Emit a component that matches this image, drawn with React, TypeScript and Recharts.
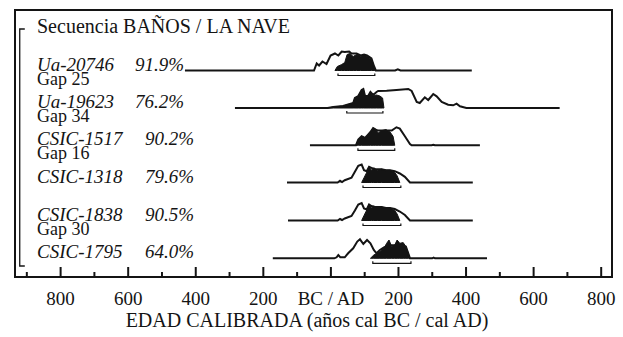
import React from 'react';
import { ComposedChart, Line, Area, XAxis, YAxis, ReferenceArea } from 'recharts';

const sampleNames = ['Ua-20746', 'Ua-19623', 'CSIC-1517', 'CSIC-1318', 'CSIC-1838', 'CSIC-1795'];
const agreements = ['91.9%', '76.2%', '90.2%', '79.6%', '90.5%', '64.0%'];
const gapLabels = ['Gap 25', 'Gap 34', 'Gap 16', '', 'Gap 30', ''];
// 95.4% ranges (cal AD)
const ranges95 = [[21, 130], [47, 154], [80, 189], [95, 207], [95, 207], [124, 237]];

// [year, height] pairs, unmodelled (outline) and modelled (filled)
const prior1 = [[-432, 0], [-50, 0], [-42, 7], [-35, 5], [-25, 9], [-13, 6.5], [-1, 15], [12, 17], [22, 15], [32, 19], [41, 18.5], [54, 19], [61, 17], [76, 17], [88, 15], [98, 16], [107, 15], [120, 12], [128, 4], [133, 0], [190, 0], [198, 1.2], [206, 0], [417, 0]];
const post1 = [[12, 0], [19, 4], [32, 6], [41, 8], [48, 16], [56, 17], [66, 14], [76, 16], [88, 14], [98, 16], [107, 14], [120, 11], [128, 4], [133, 0]];

const prior2 = [[-284, 0], [-10, 0], [7, 1], [36, 2], [66, 5], [71, 10], [81, 12], [91, 18], [96, 19], [101, 12], [110, 12], [117, 16], [125, 13], [135, 16], [140, 17], [165, 17.3], [194, 18], [229, 19], [239, 17], [254, 6], [263, 5], [278, 10.7], [288, 8], [303, 14], [313, 11.7], [328, 6], [347, 3.3], [362, 2.7], [372, 4.3], [382, 1.7], [401, 0], [677, 0]];
const post2 = [[-10, 0], [7, 1], [36, 2], [66, 5], [71, 10], [81, 12], [91, 18], [96, 19], [101, 12], [110, 12], [117, 16], [125, 12], [135, 13], [145, 12], [153, 10], [157, 0]];

const prior3 = [[-62, 0], [74, 0], [81, 5.7], [91, 9], [101, 7.3], [110, 10.7], [117, 13.3], [125, 17.3], [133, 15.7], [140, 14.7], [163, 14.7], [180, 14.7], [194, 18], [204, 16.7], [219, 9], [234, 1.3], [239, 0], [298, 0], [303, 0.6], [308, 0], [441, 0]];
const post3 = [[74, 0], [81, 5.7], [91, 9], [101, 7.3], [110, 10.7], [117, 13.3], [125, 17.3], [133, 15.7], [140, 12.3], [150, 14.7], [163, 15.7], [175, 13.3], [184, 9], [189, 0]];

const prior4 = [[-130, 0], [20, 0], [27, 1.7], [33, 0.5], [41, 2.3], [61, 4.7], [71, 10.7], [81, 16.7], [91, 18], [98, 12.3], [106, 11.3], [113, 15.7], [120, 14.7], [130, 13.3], [150, 13.3], [163, 12.3], [175, 12.3], [189, 11.3], [204, 9], [219, 5.7], [234, 0], [420, 0]];
const post4 = [[91, 0], [98, 4.7], [107, 10.7], [113, 15.7], [120, 12.3], [127, 14.7], [137, 12.3], [150, 13.3], [163, 12.3], [175, 12.3], [189, 10], [196, 6.7], [204, 0]];

const prior5 = [[-127, 0], [20, 0], [27, 1.5], [33, 0.5], [41, 2], [61, 4.5], [71, 10], [81, 16], [91, 17.5], [98, 12], [106, 11], [113, 16], [120, 14.5], [130, 13.5], [150, 13.5], [163, 12.5], [175, 12.5], [189, 11.5], [204, 9], [219, 5.5], [234, 0], [420, 0]];
const post5 = [[91, 0], [98, 5], [107, 11], [113, 16], [120, 12.5], [127, 14.5], [137, 12.5], [150, 13.5], [163, 12.5], [175, 12.5], [189, 10], [196, 6.5], [204, 0]];

const prior6 = [[-172, 0], [10, 0], [17, 1], [22, 3.3], [28, 1], [41, 1], [51, 5], [66, 10], [78, 16.7], [86, 19], [96, 14.3], [107, 18.3], [117, 15], [127, 8.3], [135, 5], [145, 8.3], [157, 11], [172, 13], [189, 13], [204, 13], [222, 11.7], [229, 5], [234, 0], [300, 0], [304, 0.6], [308, 0], [462, 0]];
const post6 = [[117, 0], [127, 3.3], [145, 6.7], [157, 10], [165, 15], [172, 18.3], [180, 11.7], [189, 13.3], [196, 18.3], [204, 15], [214, 15.7], [222, 11.7], [229, 5], [234, 0]];

const priors = [prior1, prior2, prior3, prior4, prior5, prior6];
const posts = [post1, post2, post3, post4, post5, post6];

const xTicks = [-900, -800, -700, -600, -500, -400, -300, -200, -100, 0, 100, 200, 300, 400, 500, 600, 700, 800];

// layout
const W = 623;
const H = 337;
const X_DOMAIN = [-935, 832];
const Y_DOMAIN = [0, 267];
const rowBase = [206.5, 169, 131.7, 94.5, 56.5, 18.7];
const INK = '#141414';
const FONT = "'Liberation Serif', 'Times New Roman', serif";

const toLine = (pts: number[][], base: number) => pts.map(([x, h]) => ({ x, y: base + h }));
const toArea = (pts: number[][], base: number) => pts.map(([x, h]) => ({ x, r: [base, base + h] }));
const toBar = ([a, b]: number[], base: number) => [
  { x: a, y: base - 3 }, { x: a, y: base - 5 }, { x: b, y: base - 5 }, { x: b, y: base - 3 },
];

const bracket = [{ x: -906, y: 248 }, { x: -921, y: 248 }, { x: -921, y: 11 }, { x: -906, y: 11 }];

const AxisTick = (props: any) => {
  const { x, y, payload } = props;
  const v = payload.value;
  const major = v % 200 === 0;
  const label = v === 0 ? 'BC / AD' : String(Math.abs(v));
  return (
    <g>
      <line x1={x} x2={x} y1={y} y2={y - (major ? 10 : 5)} stroke={INK} strokeWidth={2} />
      {major && (
        <text x={x} y={y + 28} textAnchor="middle" fontFamily={FONT} fontSize={19} fill={INK}>
          {label}
        </text>
      )}
    </g>
  );
};

export default function App() {
  // page y of each row baseline (plot top 10, 1 unit = 1px)
  const pageY = (v: number) => 277 - v;
  return (
    <div style={{ position: 'absolute', left: 0, top: 0, width: W, height: H, background: '#fff' }}>
      <ComposedChart width={W} height={H} margin={{ top: 10, right: 11, bottom: 0, left: 15 }}>
        <XAxis
          dataKey="x"
          type="number"
          domain={X_DOMAIN}
          allowDataOverflow
          ticks={xTicks}
          interval={0}
          height={60}
          tickSize={0}
          tickMargin={0}
          tickLine={false}
          axisLine={{ stroke: INK, strokeWidth: 2 }}
          tick={<AxisTick />}
        />
        <YAxis type="number" domain={Y_DOMAIN} hide allowDataOverflow />
        <ReferenceArea x1={X_DOMAIN[0]} x2={X_DOMAIN[1]} y1={Y_DOMAIN[0]} y2={Y_DOMAIN[1]} fill="none" fillOpacity={0} stroke={INK} strokeWidth={2} />
        <Line data={bracket} dataKey="y" type="linear" stroke={INK} strokeWidth={1.3} dot={false} isAnimationActive={false} />
        {posts.map((p, i) => (
          <Area key={'a' + i} data={toArea(p, rowBase[i])} dataKey="r" type="linear" stroke={INK} strokeWidth={1} fill={INK} fillOpacity={1} isAnimationActive={false} />
        ))}
        {priors.map((p, i) => (
          <Line key={'l' + i} data={toLine(p, rowBase[i])} dataKey="y" type="linear" stroke={INK} strokeWidth={2} dot={false} isAnimationActive={false} />
        ))}
        {ranges95.map((r, i) => (
          <Line key={'b' + i} data={toBar(r, rowBase[i])} dataKey="y" type="linear" stroke={INK} strokeWidth={1.2} dot={false} isAnimationActive={false} />
        ))}
      </ComposedChart>
      <svg width={W} height={H} style={{ position: 'absolute', left: 0, top: 0, pointerEvents: 'none' }}>
        <text x={37} y={33} fontFamily={FONT} fontSize={20} fill={INK}>Secuencia BAÑOS / LA NAVE</text>
        {sampleNames.map((n, i) => (
          <g key={n}>
            <text x={37} y={pageY(rowBase[i])} fontFamily={FONT} fontSize={19} fontStyle="italic" fill={INK}>{n}</text>
            <text x={i < 2 ? 135 : 145} y={pageY(rowBase[i])} fontFamily={FONT} fontSize={19} fontStyle="italic" fill={INK}>{agreements[i]}</text>
            {gapLabels[i] && (
              <text x={37} y={pageY(rowBase[i]) + 14} fontFamily={FONT} fontSize={18} fill={INK}>{gapLabels[i]}</text>
            )}
          </g>
        ))}
        <text x={307} y={327} textAnchor="middle" fontFamily={FONT} fontSize={20} fill={INK}>EDAD CALIBRADA (años cal BC / cal AD)</text>
      </svg>
    </div>
  );
}
